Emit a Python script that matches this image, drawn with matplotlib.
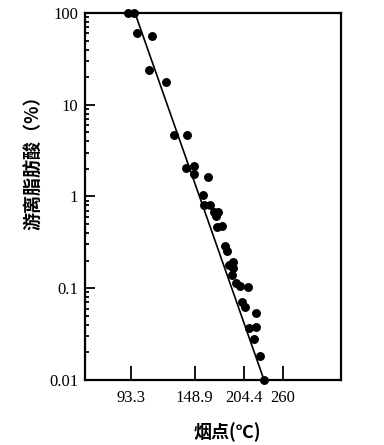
import numpy as np
import matplotlib
matplotlib.use("Agg")
import matplotlib.pyplot as plt
from matplotlib.ticker import LogLocator, NullFormatter, NullLocator

# smoke point (C) vs free fatty acid (%)
temp = [91.6, 96.2, 98.0, 110.2, 107.5, 121.8, 129.5, 141.1, 148.2, 140.4,
        148.5, 162.6, 157.7, 158.7, 165.3, 169.1, 173.0, 171.3, 172.5, 178.1,
        181.5, 183.5, 186.2, 191.0, 191.0, 189.2, 194.6, 199.6, 209.8, 202.5,
        205.3, 219.9, 211.2, 219.9, 217.5, 226.1, 232.1]
ffa = [100, 100, 60.5, 55.6, 24.1, 17.7, 4.65, 4.63, 2.16, 2.04,
       1.77, 1.64, 1.05, 0.80, 0.80, 0.686, 0.672, 0.608, 0.467, 0.479,
       0.290, 0.256, 0.178, 0.194, 0.167, 0.140, 0.115, 0.106, 0.104, 0.0716,
       0.0632, 0.0535, 0.0367, 0.0382, 0.0277, 0.0183, 0.01]

fit_t = [96.7, 231.7]
fit_v = [100, 0.01]

xticks = [93.3, 148.9, 204.4, 260]
xlabels = ["93.3", "148.9", "204.4", "260"]
yticks = [0.01, 0.1, 1, 10, 100]
ylabels = ["0.01", "0.1", "1", "10", "100"]


def fwd(t):
    return -1.0 / (np.asarray(t, dtype=float) + 273.15)


def inv(s):
    with np.errstate(divide="ignore"):
        return -1.0 / np.asarray(s, dtype=float) - 273.15


fig = plt.figure(figsize=(3.84, 4.45), dpi=100)
ax = fig.add_axes([0.2214, 0.1461, 0.6667, 0.8247])

ax.set_xscale("function", functions=(fwd, inv))
ax.set_yscale("log")
ax.set_xlim(62.0, 372.3)
ax.set_ylim(0.01, 100)

ax.plot(fit_t, fit_v, color="black", lw=1.2, clip_on=False)
ax.plot(temp, ffa, "o", color="black", ms=5.4, clip_on=False)

num_font = dict(family="Liberation Serif", size=12)
ax.set_xticks(xticks)
ax.set_xticklabels(xlabels, **num_font)
ax.xaxis.set_minor_locator(NullLocator())
ax.set_yticks(yticks)
ax.set_yticklabels(ylabels, **num_font)
ax.yaxis.set_minor_locator(LogLocator(base=10, subs=np.arange(2, 10)))
ax.yaxis.set_minor_formatter(NullFormatter())

ax.tick_params(axis="x", direction="in", length=10, width=1.3, pad=7)
ax.tick_params(axis="y", which="major", direction="in", length=7, width=1.3, pad=5)
ax.tick_params(axis="y", which="minor", direction="in", length=3, width=1.3)

for s in ax.spines.values():
    s.set_linewidth(1.6)

cjk = ["Noto Sans CJK SC", "DejaVu Sans"]
fig.text(0.086, 0.645, "游离脂肪酸（%）", rotation=90, ha="center", va="center",
         family=cjk, fontsize=13, fontweight="bold")
fig.text(0.591, 0.029, "烟点(℃)", ha="center", va="center",
         family=cjk, fontsize=13, fontweight="bold")

fig.savefig("out.png", dpi=100)
